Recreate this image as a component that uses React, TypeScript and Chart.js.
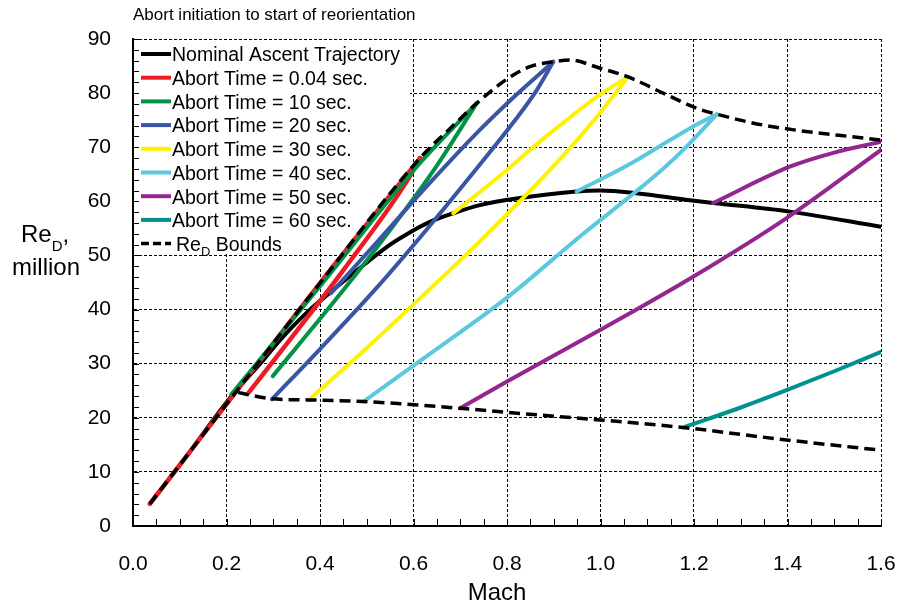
import React, { useEffect, useRef } from 'react';
import { Chart, registerables } from 'chart.js';

Chart.register(...registerables);

const FONT = '"Liberation Sans", Arial, Helvetica, sans-serif';

// ---- text ----
const titleText = 'Abort initiation to start of reorientation';
const xAxisTitle = 'Mach';
const yAxisTitleMain = 'Re';
const yAxisTitleSub = 'D';
const yAxisTitleLine2 = 'million';

// ---- ticks ----
const xTickValues = [0, 0.2, 0.4, 0.6, 0.8, 1.0, 1.2, 1.4, 1.6];
const yTickValues = [0, 10, 20, 30, 40, 50, 60, 70, 80, 90];
const xTickLabels = ['0.0', '0.2', '0.4', '0.6', '0.8', '1.0', '1.2', '1.4', '1.6'];
const yTickLabels = ['0', '10', '20', '30', '40', '50', '60', '70', '80', '90'];

// ---- data (Mach, Re_D in million) ----
const nominalMach = [0.036, 0.1, 0.207, 0.279, 0.314, 0.37, 0.428, 0.49, 0.55, 0.593, 0.635, 0.685, 0.742, 0.828, 0.949, 0.999, 1.077, 1.191, 1.241, 1.405, 1.6];
const nominalRe = [4.1, 11.2, 23.6, 30.7, 34.3, 39.3, 43.6, 48.0, 52.0, 54.3, 56.2, 57.8, 59.3, 60.6, 61.8, 62.0, 61.5, 60.2, 59.7, 58.1, 55.3];

const upperBoundMach = [0.036, 0.2, 0.4, 0.614, 0.68, 0.735, 0.8, 0.849, 0.899, 0.935, 0.999, 1.059, 1.134, 1.206, 1.249, 1.348, 1.6];
const upperBoundRe = [4.1, 22.5, 44.9, 68.0, 73.6, 78.1, 82.6, 84.9, 85.8, 86.1, 84.6, 83.0, 80.0, 77.2, 76.1, 74.1, 71.3];

const lowerBoundMach = [0.225, 0.25, 0.297, 0.375, 0.493, 0.571, 0.65, 0.7, 0.8, 0.999, 1.177, 1.398, 1.6];
const lowerBoundRe = [24.7, 24.2, 23.5, 23.3, 23.0, 22.6, 22.1, 21.75, 21.0, 19.6, 18.2, 15.9, 14.0];

// Abort 0.04 s: rise from lift-off to apex, fall from apex to lower bound
const abort004RiseMach = [0.036, 0.2, 0.4, 0.614];
const abort004RiseRe = [4.1, 22.5, 44.9, 68.0];
const abort004FallMach = [0.247, 0.35, 0.45, 0.585, 0.614];
const abort004FallRe = [24.6, 36.0, 47.3, 63.6, 68.0];

const abort10RiseMach = [0.21, 0.4, 0.607, 0.735];
const abort10RiseRe = [24.3, 44.3, 66.4, 78.1];
const abort10FallMach = [0.299, 0.45, 0.55, 0.65, 0.735];
const abort10FallRe = [27.7, 43.6, 54.7, 66.6, 78.1];

const abort20RiseMach = [0.423, 0.52, 0.635, 0.742, 0.82, 0.899];
const abort20RiseRe = [43.0, 52.3, 63.4, 73.2, 79.7, 85.8];
const abort20FallMach = [0.297, 0.4, 0.521, 0.635, 0.742, 0.82, 0.864, 0.899];
const abort20FallRe = [23.4, 32.7, 44.0, 55.5, 66.8, 75.3, 80.6, 85.8];

const abort30RiseMach = [0.685, 0.8, 0.849, 0.92, 0.992, 1.059];
const abort30RiseRe = [57.8, 65.8, 69.5, 74.5, 79.3, 83.0];
const abort30FallMach = [0.375, 0.5, 0.635, 0.742, 0.892, 0.992, 1.059];
const abort30FallRe = [23.2, 32.9, 43.8, 52.6, 65.8, 75.6, 83.0];

const abort40RiseMach = [0.949, 1.063, 1.15, 1.206, 1.249];
const abort40RiseRe = [61.8, 66.9, 71.4, 74.2, 76.1];
const abort40FallMach = [0.493, 0.635, 0.8, 0.949, 1.134, 1.184, 1.249];
const abort40FallRe = [23.0, 31.8, 42.2, 53.0, 66.0, 70.1, 76.1];

const abort50RiseMach = [1.241, 1.405, 1.5, 1.6];
const abort50RiseRe = [59.7, 66.4, 69.0, 71.0];
const abort50FallMach = [0.7, 0.8, 0.999, 1.199, 1.398, 1.6];
const abort50FallRe = [21.75, 26.7, 36.2, 46.1, 56.9, 69.5];

const abort60Mach = [1.177, 1.3, 1.398, 1.5, 1.6];
const abort60Re = [18.2, 21.9, 25.1, 28.6, 32.2];

// ---- legend ----
const legendLabels = [
  'Nominal Ascent Trajectory',
  'Abort Time = 0.04 sec.',
  'Abort Time = 10 sec.',
  'Abort Time = 20 sec.',
  'Abort Time = 30 sec.',
  'Abort Time = 40 sec.',
  'Abort Time = 50 sec.',
  'Abort Time = 60 sec.',
];
const boundsLegendMain = 'Re';
const boundsLegendSub = 'D';
const boundsLegendRest = ' Bounds';

const colors = {
  nominal: '#000000',
  a004: '#ED1C24',
  a10: '#009245',
  a20: '#3A55A5',
  a30: '#FFF200',
  a40: '#5CC8DE',
  a50: '#92278F',
  a60: '#00918E',
  bounds: '#000000',
};
const legendColors = [colors.nominal, colors.a004, colors.a10, colors.a20, colors.a30, colors.a40, colors.a50, colors.a60];

const BOUND_DASH = [11, 6];

type SeriesDef = {
  label: string;
  color: string;
  mach: number[];
  re: number[];
  dash: number[];
  width: number;
  order: number;
};

const solid = (label: string, color: string, mach: number[], re: number[], order: number, width = 4): SeriesDef => ({
  label, color, mach, re, dash: [], width, order,
});

const seriesDefs: SeriesDef[] = [
  { label: 'bounds-upper', color: colors.bounds, mach: upperBoundMach, re: upperBoundRe, dash: BOUND_DASH, width: 3.5, order: 0 },
  { label: 'bounds-lower', color: colors.bounds, mach: lowerBoundMach, re: lowerBoundRe, dash: BOUND_DASH, width: 3.5, order: 0 },
  solid(legendLabels[1], colors.a004, abort004RiseMach, abort004RiseRe, 7, 4.5),
  solid(legendLabels[1], colors.a004, abort004FallMach, abort004FallRe, 7, 4.5),
  solid(legendLabels[2], colors.a10, abort10RiseMach, abort10RiseRe, 6),
  solid(legendLabels[2], colors.a10, abort10FallMach, abort10FallRe, 6),
  solid(legendLabels[3], colors.a20, abort20RiseMach, abort20RiseRe, 5),
  solid(legendLabels[3], colors.a20, abort20FallMach, abort20FallRe, 5),
  solid(legendLabels[4], colors.a30, abort30RiseMach, abort30RiseRe, 4),
  solid(legendLabels[4], colors.a30, abort30FallMach, abort30FallRe, 4),
  solid(legendLabels[5], colors.a40, abort40RiseMach, abort40RiseRe, 3),
  solid(legendLabels[5], colors.a40, abort40FallMach, abort40FallRe, 3),
  solid(legendLabels[6], colors.a50, abort50RiseMach, abort50RiseRe, 2),
  solid(legendLabels[6], colors.a50, abort50FallMach, abort50FallRe, 2),
  solid(legendLabels[7], colors.a60, abort60Mach, abort60Re, 1),
  solid(legendLabels[0], colors.nominal, nominalMach, nominalRe, 10),
];

const legendPlugin = {
  id: 'customLegend',
  beforeDatasetsDraw(chart: any) {
    const ctx: CanvasRenderingContext2D = chart.ctx;
    const a = chart.chartArea;
    ctx.save();
    // white legend box
    ctx.fillStyle = '#ffffff';
    ctx.fillRect(a.left + 1.5, a.top + 1, 410 - a.left - 1.5, 230 - a.top - 1);
    ctx.fillRect(a.left + 1.5, 229, 292 - a.left - 1.5, 24);

    const rowY0 = a.top + 15;
    const step = 23.7;
    const lx0 = a.left + 8;
    const lx1 = a.left + 38;
    const fs = 19.5;
    ctx.textBaseline = 'alphabetic';
    ctx.textAlign = 'left';
    legendLabels.forEach((lab, i) => {
      const y = rowY0 + i * step;
      ctx.beginPath();
      ctx.strokeStyle = legendColors[i];
      ctx.lineWidth = 4;
      ctx.lineCap = 'butt';
      ctx.setLineDash([]);
      ctx.moveTo(lx0, y);
      ctx.lineTo(lx1, y);
      ctx.stroke();
      ctx.fillStyle = '#000';
      ctx.font = `${fs}px ${FONT}`;
      ctx.fillText(lab, lx1 + 1, y + 7.3);
    });
    // bounds row
    const yb = rowY0 + legendLabels.length * step;
    ctx.beginPath();
    ctx.strokeStyle = colors.bounds;
    ctx.lineWidth = 3.5;
    ctx.setLineDash([8, 4]);
    ctx.moveTo(lx0, yb);
    ctx.lineTo(lx1, yb);
    ctx.stroke();
    ctx.setLineDash([]);
    ctx.fillStyle = '#000';
    ctx.font = `${fs}px ${FONT}`;
    let tx = lx1 + 5;
    ctx.fillText(boundsLegendMain, tx, yb + 7.3);
    tx += ctx.measureText(boundsLegendMain).width;
    ctx.font = `13px ${FONT}`;
    ctx.fillText(boundsLegendSub, tx, yb + 12);
    tx += ctx.measureText(boundsLegendSub).width;
    ctx.font = `${fs}px ${FONT}`;
    ctx.fillText(boundsLegendRest, tx, yb + 7.3);
    ctx.restore();
  },
};

const decorPlugin = {
  id: 'decor',
  afterDraw(chart: any) {
    const ctx: CanvasRenderingContext2D = chart.ctx;
    const a = chart.chartArea;
    const xs = chart.scales.x;
    const ys = chart.scales.y;
    ctx.save();
    // minor ticks (inward)
    ctx.strokeStyle = '#000';
    ctx.lineWidth = 1;
    ctx.setLineDash([]);
    ctx.beginPath();
    for (let k = 0; k <= 32; k++) {
      const px = Math.round(xs.getPixelForValue(k * 0.05)) + 0.5;
      ctx.moveTo(px, a.bottom);
      ctx.lineTo(px, a.bottom - 7);
    }
    for (let k = 0; k <= 45; k++) {
      const py = Math.round(ys.getPixelForValue(k * 2)) + 0.5;
      ctx.moveTo(a.left, py);
      ctx.lineTo(a.left + 6, py);
    }
    ctx.stroke();

    ctx.fillStyle = '#000';
    ctx.textBaseline = 'alphabetic';
    // title
    ctx.font = `17px ${FONT}`;
    ctx.textAlign = 'left';
    ctx.fillText(titleText, a.left, 19.5);
    // x axis title
    ctx.font = `24px ${FONT}`;
    ctx.textAlign = 'center';
    ctx.fillText(xAxisTitle, 497, 600);
    // y axis title
    ctx.textAlign = 'left';
    ctx.font = `24px ${FONT}`;
    let tx = 21;
    ctx.fillText(yAxisTitleMain, tx, 242);
    tx += ctx.measureText(yAxisTitleMain).width;
    ctx.font = `15px ${FONT}`;
    ctx.fillText(yAxisTitleSub, tx, 250.5);
    tx += ctx.measureText(yAxisTitleSub).width;
    ctx.font = `24px ${FONT}`;
    ctx.fillText(',', tx, 242);
    ctx.fillText(yAxisTitleLine2, 12, 275);
    ctx.restore();
  },
};

export default function App() {
  const ref = useRef<HTMLCanvasElement | null>(null);
  useEffect(() => {
    const canvas = ref.current;
    if (!canvas) return;
    const chart = new Chart(canvas, {
      type: 'scatter',
      data: {
        datasets: seriesDefs.map((s) => ({
          label: s.label,
          data: s.mach.map((x, i) => ({ x, y: s.re[i] })),
          showLine: true,
          borderColor: s.color,
          backgroundColor: s.color,
          borderWidth: s.width,
          borderDash: s.dash,
          borderCapStyle: s.dash.length ? 'butt' : 'round',
          borderJoinStyle: 'round',
          pointRadius: 0,
          pointHoverRadius: 0,
          tension: 0.4,
          cubicInterpolationMode: 'monotone',
          order: s.order,
          fill: false,
        })) as any,
      },
      options: {
        animation: false,
        responsive: false,
        maintainAspectRatio: false,
        events: [],
        layout: { padding: { left: 0, right: 18, top: 39, bottom: 0 } },
        plugins: {
          legend: { display: false },
          title: { display: false },
          tooltip: { enabled: false },
        },
        scales: {
          x: {
            type: 'linear',
            min: 0,
            max: 1.6,
            afterBuildTicks: (scale: any) => {
              scale.ticks = xTickValues.map((v) => ({ value: v }));
            },
            afterFit: (scale: any) => {
              scale.height = 83;
              scale.paddingLeft = 0;
              scale.paddingRight = 0;
            },
            grid: { color: '#000', lineWidth: 1, drawTicks: false },
            border: { display: true, color: '#000', width: 2, dash: [3, 2] },
            ticks: {
              padding: 26,
              color: '#000',
              autoSkip: false,
              maxRotation: 0,
              font: { family: FONT, size: 21 },
              callback: (v: any) => {
                const i = xTickValues.findIndex((t) => Math.abs(t - Number(v)) < 1e-6);
                return i >= 0 ? xTickLabels[i] : '';
              },
            },
          },
          y: {
            type: 'linear',
            min: 0,
            max: 90,
            afterBuildTicks: (scale: any) => {
              scale.ticks = yTickValues.map((v) => ({ value: v }));
            },
            afterFit: (scale: any) => {
              scale.width = 133;
              scale.paddingTop = 0;
              scale.paddingBottom = 0;
            },
            grid: { color: '#000', lineWidth: 1, drawTicks: false },
            border: { display: true, color: '#000', width: 2, dash: [3, 2] },
            ticks: {
              padding: 22,
              color: '#000',
              autoSkip: false,
              font: { family: FONT, size: 21 },
              callback: (v: any) => {
                const i = yTickValues.findIndex((t) => Math.abs(t - Number(v)) < 1e-6);
                return i >= 0 ? yTickLabels[i] : '';
              },
            },
          },
        },
      } as any,
      plugins: [legendPlugin, decorPlugin],
    });
    return () => chart.destroy();
  }, []);

  return (
    <div style={{ position: 'absolute', left: 0, top: 0, width: 899, height: 609, background: '#fff' }}>
      <canvas ref={ref} width={899} height={609} style={{ display: 'block', width: 899, height: 609 }} />
    </div>
  );
}
